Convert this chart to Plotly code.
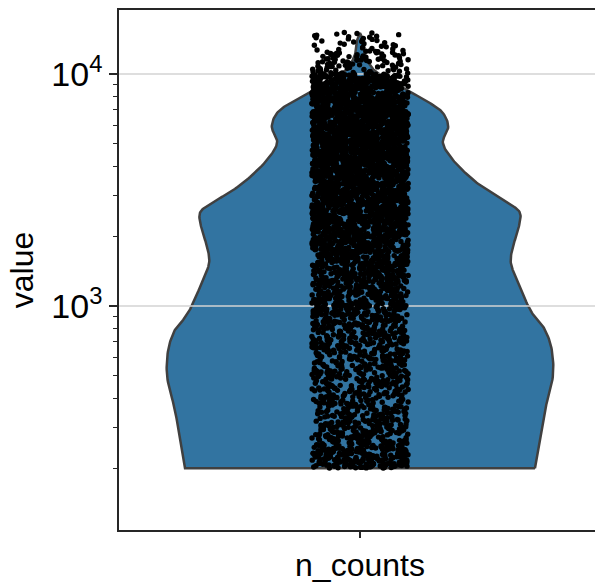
import numpy as np
import plotly.graph_objects as go

# ---- data -------------------------------------------------------------
category = "n_counts"

# violin outline: log10(n_counts) level and half-width (in category units)
violin_log10 = [2.301, 2.422, 2.552, 2.694, 2.810, 2.897, 2.940, 3.000, 3.112,
                3.185, 3.254, 3.328, 3.401, 3.444, 3.500, 3.556, 3.629, 3.703,
                3.772, 3.832, 3.875, 3.922, 3.953, 3.983, 4.017, 4.060, 4.103,
                4.147, 4.177]
violin_halfwidth = [0.363, 0.373, 0.384, 0.400, 0.398, 0.384, 0.367, 0.349, 0.326,
                    0.313, 0.317, 0.328, 0.332, 0.307, 0.263, 0.228, 0.193, 0.172,
                    0.183, 0.172, 0.145, 0.105, 0.077, 0.052, 0.029, 0.015, 0.008,
                    0.006, 0.0]

# number of cells per log10(n_counts) bin
bin_edges_log10 = [2.301, 2.4, 2.5, 2.6, 2.7, 2.8, 2.9, 3.0, 3.1, 3.2, 3.3, 3.4,
                   3.5, 3.6, 3.7, 3.8, 3.9, 4.0, 4.1, 4.18]
bin_counts = [210, 150, 125, 125, 135, 150, 170, 200, 230, 280, 330, 360,
              380, 400, 420, 440, 360, 90, 35]

y_tickvals = [1000, 10000]
y_ticktext = ["10<sup>3</sup>", "10<sup>4</sup>"]
y_minor = [200, 300, 400, 500, 600, 700, 800, 900,
           2000, 3000, 4000, 5000, 6000, 7000, 8000, 9000]


# ---- cells: evenly spaced inside each bin, horizontally jittered --------
def hash01(k):
    """Deterministic scatter in [0, 1) used for the strip jitter."""
    v = np.sin(k * 12.9898 + 78.233) * 43758.5453
    return v - np.floor(v)


jitter_half = 0.1
values, xs = [], []
k = 0
for lo, hi, n in zip(bin_edges_log10[:-1], bin_edges_log10[1:], bin_counts):
    for j in range(n):
        values.append(10 ** (lo + (j + 0.5) / n * (hi - lo)))
        xs.append((hash01(k) - 0.5) * 2 * jitter_half)
        k += 1


# ---- smooth violin outline (Catmull-Rom through the profile) ------------
def catmull_rom(px, py, samples=12):
    px, py = np.asarray(px, float), np.asarray(py, float)
    n = len(px)
    out_x, out_y = [], []
    for i in range(n - 1):
        i0, i1, i2, i3 = max(i - 1, 0), i, i + 1, min(i + 2, n - 1)
        for t in np.linspace(0, 1, samples, endpoint=False):
            t2, t3 = t * t, t * t * t
            for arr, out in ((px, out_x), (py, out_y)):
                p0, p1, p2, p3 = arr[i0], arr[i1], arr[i2], arr[i3]
                out.append(0.5 * (2 * p1 + (-p0 + p2) * t
                                  + (2 * p0 - 5 * p1 + 4 * p2 - p3) * t2
                                  + (-p0 + 3 * p1 - 3 * p2 + p3) * t3))
    out_x.append(px[-1])
    out_y.append(py[-1])
    return np.array(out_x), np.array(out_y)


s_log, s_hw = catmull_rom(violin_log10, violin_halfwidth)
s_hw = np.clip(s_hw, 0, None)
s_val = np.power(10.0, s_log)
poly_x = np.concatenate([s_hw, -s_hw[::-1], [s_hw[0]]])
poly_y = np.concatenate([s_val, s_val[::-1], [s_val[0]]])

fig = go.Figure()
fig.add_trace(go.Scatter(
    x=poly_x, y=poly_y, mode="lines", fill="toself",
    fillcolor="#3274a1", line=dict(color="#404040", width=2.5),
    hoverinfo="skip", showlegend=False))

# horizontal grid lines drawn over the violin
for tv in y_tickvals:
    fig.add_trace(go.Scatter(x=[-0.5, 0.6], y=[tv, tv], mode="lines",
                             line=dict(color="#d3d3d3", width=1.6),
                             hoverinfo="skip", showlegend=False))

fig.add_trace(go.Scatter(
    x=xs, y=values, mode="markers",
    marker=dict(color="black", size=5.4, line=dict(width=0)),
    showlegend=False))

font_family = "Liberation Sans, Arial, sans-serif"
fig.update_layout(
    width=595, height=585,
    margin=dict(l=119, r=0, t=10, b=55),
    paper_bgcolor="white", plot_bgcolor="white",
    font=dict(family=font_family, size=32, color="black"),
    xaxis=dict(range=[-0.5, 0.4876], tickvals=[0], ticktext=[category],
               showline=True, mirror=True, linecolor="#262626", linewidth=1.5,
               ticks="outside", ticklen=6, tickwidth=1.5, tickcolor="#262626",
               showgrid=False, zeroline=False, tickfont=dict(size=32)),
    yaxis=dict(type="log", range=[2.0345, 4.2759],
               tickvals=y_tickvals, ticktext=y_ticktext,
               showline=True, mirror=False, linecolor="#262626", linewidth=1.5,
               ticks="outside", ticklen=8, tickwidth=1.5, tickcolor="#262626",
               showgrid=False, zeroline=False, tickfont=dict(size=34),
               minor=dict(tickvals=y_minor, ticks="outside", ticklen=4,
                          tickwidth=1.2, tickcolor="#262626", showgrid=False),
               title=dict(text="value", font=dict(size=32), standoff=8)),
)

fig.write_html("out.html")
